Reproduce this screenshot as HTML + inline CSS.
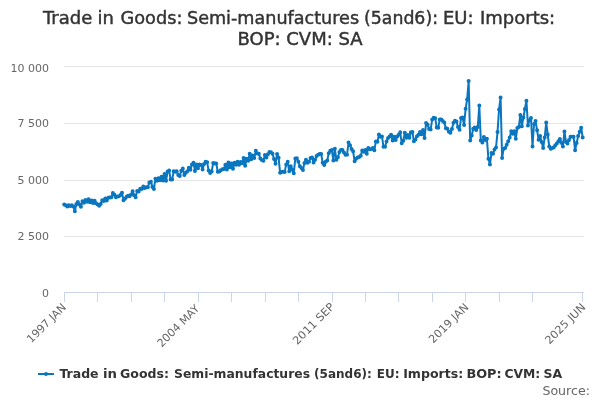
<!DOCTYPE html>
<html><head><meta charset="utf-8">
<style>
html,body{margin:0;padding:0;background:#fff;overflow:hidden;}
svg{display:block;font-family:"DejaVu Sans","Liberation Sans",sans-serif;}
</style></head><body>
<svg width="600" height="400" viewBox="0 0 600 400">
<rect x="0" y="0" width="600" height="400" fill="#ffffff"/>
<g fill="#333333" font-size="18px" text-anchor="middle" stroke="#333333" stroke-width="0.45">
<g text-anchor="start">
<text x="43" y="24">Trade</text>
<text x="97.5" y="24">in</text>
<text x="120.5" y="24" textLength="61.9" lengthAdjust="spacingAndGlyphs">Goods:</text>
<text x="187" y="24" textLength="172.1" lengthAdjust="spacingAndGlyphs">Semi-manufactures</text>
<text x="364" y="24" textLength="74" lengthAdjust="spacingAndGlyphs">(5and6):</text>
<text x="443" y="24">EU:</text>
<text x="480" y="24">Imports:</text>
</g>
<text x="300" y="45">BOP: CVM: SA</text>
</g>
<g stroke="#e6e6e6" stroke-width="1" fill="none">
<path d="M64 66.5H584M64 123.5H584M64 180.5H584M64 236.5H584"/>
</g>
<path d="M64 292.5H584M64.5 292.5V302M97.5 292.5V302M131.5 292.5V302M164.5 292.5V302M198.5 292.5V302M231.5 292.5V302M265.5 292.5V302M298.5 292.5V302M332.5 292.5V302M365.5 292.5V302M398.5 292.5V302M432.5 292.5V302M465.5 292.5V302M499.5 292.5V302M532.5 292.5V302M582.5 292.5V302" stroke="#ccd6eb" stroke-width="1" fill="none"/>
<g fill="#666666" font-size="11px" text-anchor="end">
<text x="49" y="71.5">10 000</text>
<text x="49" y="127.3">7 500</text>
<text x="49" y="183.8">5 000</text>
<text x="49" y="239.5">2 500</text>
<text x="49" y="296.5">0</text>
</g>
<g fill="#666666" font-size="11px" text-anchor="end">
<text x="66.8" y="308.0" transform="rotate(-45 66.8 308.0)">1997 JAN</text><text x="200.1" y="309.25" transform="rotate(-45 200.1 309.25)">2004 MAY</text><text x="335.1" y="307.4" transform="rotate(-45 335.1 307.4)" textLength="53.5" lengthAdjust="spacingAndGlyphs">2011 SEP</text><text x="469.3" y="307.8" transform="rotate(-45 469.3 307.8)" textLength="51.0" lengthAdjust="spacingAndGlyphs">2019 JAN</text><text x="586.3" y="307.9" transform="rotate(-45 586.3 307.9)" textLength="52.2" lengthAdjust="spacingAndGlyphs">2025 JUN</text>
</g>
<path d="M64.20 204.42 L65.72 205.24 L67.24 206.40 L68.76 205.17 L70.28 206.00 L71.80 205.22 L73.32 206.48 L74.84 211.21 L76.36 204.01 L77.88 201.95 L79.41 204.42 L80.93 206.80 L82.45 201.31 L83.97 202.85 L85.49 200.00 L87.01 201.64 L88.53 199.14 L90.05 202.17 L91.57 200.39 L93.09 202.95 L94.61 200.85 L96.13 203.34 L97.65 204.54 L99.17 205.63 L100.69 204.11 L102.21 200.24 L103.73 201.08 L105.25 198.48 L106.77 200.49 L108.29 197.78 L109.81 197.56 L111.34 197.36 L112.86 193.02 L114.38 194.81 L115.90 197.20 L117.42 196.52 L118.94 196.30 L120.46 195.09 L121.98 192.65 L123.50 200.15 L125.02 198.70 L126.54 196.78 L128.06 195.80 L129.58 196.19 L131.10 194.45 L132.62 191.37 L134.14 195.33 L135.66 197.24 L137.18 190.88 L138.70 191.54 L140.22 188.70 L141.75 189.01 L143.27 186.50 L144.79 187.97 L146.31 187.37 L147.83 187.37 L149.35 182.57 L150.87 181.63 L152.39 186.88 L153.91 189.02 L155.43 178.72 L156.95 180.87 L158.47 178.24 L159.99 180.20 L161.51 176.84 L163.03 180.53 L164.55 174.08 L166.07 180.73 L167.59 171.61 L169.11 170.54 L170.63 179.56 L172.16 179.58 L173.68 171.33 L175.20 171.65 L176.72 171.22 L178.24 175.10 L179.76 176.12 L181.28 170.72 L182.80 168.55 L184.32 175.04 L185.84 172.72 L187.36 171.24 L188.88 167.76 L190.40 169.70 L191.92 164.38 L193.44 162.86 L194.96 171.00 L196.48 164.50 L198.00 168.17 L199.52 164.43 L201.05 165.04 L202.57 169.43 L204.09 163.95 L205.61 161.69 L207.13 162.34 L208.65 170.59 L210.17 173.07 L211.69 171.41 L213.21 162.90 L214.73 163.50 L216.25 163.50 L217.77 171.70 L219.29 171.47 L220.81 170.25 L222.33 169.23 L223.85 168.93 L225.37 164.80 L226.89 169.39 L228.41 162.39 L229.93 167.17 L231.45 163.47 L232.98 168.64 L234.50 162.68 L236.02 164.87 L237.54 161.74 L239.06 164.63 L240.58 161.90 L242.10 163.22 L243.62 157.89 L245.14 165.82 L246.66 158.79 L248.18 160.81 L249.70 153.75 L251.22 159.19 L252.74 155.53 L254.26 158.03 L255.78 150.83 L257.30 153.57 L258.82 153.86 L260.34 158.39 L261.87 160.10 L263.39 160.68 L264.91 154.95 L266.43 157.52 L267.95 154.15 L269.47 152.05 L270.99 152.29 L272.51 153.81 L274.03 159.06 L275.55 163.86 L277.07 153.97 L278.59 157.72 L280.11 172.83 L281.63 172.10 L283.15 171.76 L284.67 172.10 L286.19 164.41 L287.71 161.80 L289.23 171.25 L290.75 166.28 L292.27 169.64 L293.80 173.19 L295.32 158.44 L296.84 158.30 L298.36 161.77 L299.88 166.24 L301.40 168.00 L302.92 170.12 L304.44 163.07 L305.96 159.68 L307.48 162.65 L309.00 161.70 L310.52 158.04 L312.04 157.41 L313.56 162.45 L315.08 159.83 L316.60 155.90 L318.12 154.84 L319.64 154.08 L321.16 153.90 L322.69 162.78 L324.21 165.08 L325.73 161.68 L327.25 160.43 L328.77 153.13 L330.29 150.72 L331.81 149.90 L333.33 160.45 L334.85 148.81 L336.37 159.67 L337.89 157.32 L339.41 151.92 L340.93 150.11 L342.45 150.08 L343.97 152.49 L345.49 154.74 L347.01 154.77 L348.53 142.53 L350.05 145.23 L351.57 149.04 L353.09 151.34 L354.62 161.13 L356.14 158.76 L357.66 157.60 L359.18 156.99 L360.70 155.85 L362.22 150.59 L363.74 151.70 L365.26 149.91 L366.78 153.67 L368.30 147.96 L369.82 149.30 L371.34 148.93 L372.86 147.91 L374.38 150.17 L375.90 141.42 L377.42 141.66 L378.94 134.51 L380.46 136.86 L381.98 136.41 L383.50 146.81 L385.03 146.81 L386.55 141.49 L388.07 137.93 L389.59 136.51 L391.11 134.67 L392.63 140.56 L394.15 136.87 L395.67 139.97 L397.19 136.51 L398.71 134.68 L400.23 132.37 L401.75 143.32 L403.27 140.84 L404.79 132.75 L406.31 137.64 L407.83 135.12 L409.35 137.68 L410.87 132.36 L412.39 132.09 L413.91 141.36 L415.44 139.41 L416.96 136.19 L418.48 134.76 L420.00 131.90 L421.52 134.22 L423.04 129.97 L424.56 138.04 L426.08 123.10 L427.60 124.85 L429.12 128.90 L430.64 129.52 L432.16 119.54 L433.68 117.80 L435.20 118.20 L436.72 127.54 L438.24 127.71 L439.76 119.41 L441.28 119.38 L442.80 120.90 L444.32 122.40 L445.85 128.35 L447.37 128.87 L448.89 131.76 L450.41 132.68 L451.93 128.91 L453.45 122.87 L454.97 120.74 L456.49 121.44 L458.01 127.11 L459.53 129.63 L461.05 118.12 L462.57 117.51 L464.09 124.90 L465.61 108.80 L467.13 99.40 L468.65 81.00 L470.17 140.60 L471.69 135.60 L473.21 128.80 L474.73 127.50 L476.26 130.00 L477.78 126.90 L479.30 105.60 L480.82 140.60 L482.34 142.50 L483.86 136.90 L485.38 140.00 L486.90 138.80 L488.42 158.80 L489.94 164.50 L491.46 153.10 L492.98 153.80 L494.50 149.40 L496.02 147.50 L497.54 131.90 L499.06 109.40 L500.58 97.50 L502.10 158.10 L503.62 148.80 L505.14 148.10 L506.67 144.70 L508.19 141.30 L509.71 137.50 L511.23 131.30 L512.75 133.80 L514.27 131.30 L515.79 138.80 L517.31 128.10 L518.83 126.90 L520.35 115.00 L521.87 126.20 L523.39 117.60 L524.91 109.00 L526.43 100.70 L527.95 125.50 L529.47 120.20 L530.99 118.00 L532.51 146.50 L534.03 124.00 L535.55 121.00 L537.08 130.35 L538.60 139.70 L540.12 136.00 L541.64 142.00 L543.16 148.00 L544.68 137.50 L546.20 122.50 L547.72 134.50 L549.24 146.50 L550.76 148.70 L552.28 147.95 L553.80 147.20 L555.32 145.35 L556.84 143.50 L558.36 141.25 L559.88 139.00 L561.40 142.75 L562.92 146.50 L564.44 131.50 L565.97 142.00 L567.49 143.50 L569.01 140.10 L570.53 136.70 L572.05 136.70 L573.57 136.70 L575.09 150.20 L576.61 143.10 L578.13 136.00 L579.65 131.85 L581.17 127.70 L582.69 137.50" stroke="#0a76bf" stroke-width="2" fill="none" stroke-linejoin="round" stroke-linecap="round"/>
<path d="M62.20 204.42a2.0 2.0 0 1 0 4.0 0a2.0 2.0 0 1 0 -4.0 0M63.72 205.24a2.0 2.0 0 1 0 4.0 0a2.0 2.0 0 1 0 -4.0 0M65.24 206.40a2.0 2.0 0 1 0 4.0 0a2.0 2.0 0 1 0 -4.0 0M66.76 205.17a2.0 2.0 0 1 0 4.0 0a2.0 2.0 0 1 0 -4.0 0M68.28 206.00a2.0 2.0 0 1 0 4.0 0a2.0 2.0 0 1 0 -4.0 0M69.80 205.22a2.0 2.0 0 1 0 4.0 0a2.0 2.0 0 1 0 -4.0 0M71.32 206.48a2.0 2.0 0 1 0 4.0 0a2.0 2.0 0 1 0 -4.0 0M72.84 211.21a2.0 2.0 0 1 0 4.0 0a2.0 2.0 0 1 0 -4.0 0M74.36 204.01a2.0 2.0 0 1 0 4.0 0a2.0 2.0 0 1 0 -4.0 0M75.88 201.95a2.0 2.0 0 1 0 4.0 0a2.0 2.0 0 1 0 -4.0 0M77.41 204.42a2.0 2.0 0 1 0 4.0 0a2.0 2.0 0 1 0 -4.0 0M78.93 206.80a2.0 2.0 0 1 0 4.0 0a2.0 2.0 0 1 0 -4.0 0M80.45 201.31a2.0 2.0 0 1 0 4.0 0a2.0 2.0 0 1 0 -4.0 0M81.97 202.85a2.0 2.0 0 1 0 4.0 0a2.0 2.0 0 1 0 -4.0 0M83.49 200.00a2.0 2.0 0 1 0 4.0 0a2.0 2.0 0 1 0 -4.0 0M85.01 201.64a2.0 2.0 0 1 0 4.0 0a2.0 2.0 0 1 0 -4.0 0M86.53 199.14a2.0 2.0 0 1 0 4.0 0a2.0 2.0 0 1 0 -4.0 0M88.05 202.17a2.0 2.0 0 1 0 4.0 0a2.0 2.0 0 1 0 -4.0 0M89.57 200.39a2.0 2.0 0 1 0 4.0 0a2.0 2.0 0 1 0 -4.0 0M91.09 202.95a2.0 2.0 0 1 0 4.0 0a2.0 2.0 0 1 0 -4.0 0M92.61 200.85a2.0 2.0 0 1 0 4.0 0a2.0 2.0 0 1 0 -4.0 0M94.13 203.34a2.0 2.0 0 1 0 4.0 0a2.0 2.0 0 1 0 -4.0 0M95.65 204.54a2.0 2.0 0 1 0 4.0 0a2.0 2.0 0 1 0 -4.0 0M97.17 205.63a2.0 2.0 0 1 0 4.0 0a2.0 2.0 0 1 0 -4.0 0M98.69 204.11a2.0 2.0 0 1 0 4.0 0a2.0 2.0 0 1 0 -4.0 0M100.21 200.24a2.0 2.0 0 1 0 4.0 0a2.0 2.0 0 1 0 -4.0 0M101.73 201.08a2.0 2.0 0 1 0 4.0 0a2.0 2.0 0 1 0 -4.0 0M103.25 198.48a2.0 2.0 0 1 0 4.0 0a2.0 2.0 0 1 0 -4.0 0M104.77 200.49a2.0 2.0 0 1 0 4.0 0a2.0 2.0 0 1 0 -4.0 0M106.29 197.78a2.0 2.0 0 1 0 4.0 0a2.0 2.0 0 1 0 -4.0 0M107.81 197.56a2.0 2.0 0 1 0 4.0 0a2.0 2.0 0 1 0 -4.0 0M109.34 197.36a2.0 2.0 0 1 0 4.0 0a2.0 2.0 0 1 0 -4.0 0M110.86 193.02a2.0 2.0 0 1 0 4.0 0a2.0 2.0 0 1 0 -4.0 0M112.38 194.81a2.0 2.0 0 1 0 4.0 0a2.0 2.0 0 1 0 -4.0 0M113.90 197.20a2.0 2.0 0 1 0 4.0 0a2.0 2.0 0 1 0 -4.0 0M115.42 196.52a2.0 2.0 0 1 0 4.0 0a2.0 2.0 0 1 0 -4.0 0M116.94 196.30a2.0 2.0 0 1 0 4.0 0a2.0 2.0 0 1 0 -4.0 0M118.46 195.09a2.0 2.0 0 1 0 4.0 0a2.0 2.0 0 1 0 -4.0 0M119.98 192.65a2.0 2.0 0 1 0 4.0 0a2.0 2.0 0 1 0 -4.0 0M121.50 200.15a2.0 2.0 0 1 0 4.0 0a2.0 2.0 0 1 0 -4.0 0M123.02 198.70a2.0 2.0 0 1 0 4.0 0a2.0 2.0 0 1 0 -4.0 0M124.54 196.78a2.0 2.0 0 1 0 4.0 0a2.0 2.0 0 1 0 -4.0 0M126.06 195.80a2.0 2.0 0 1 0 4.0 0a2.0 2.0 0 1 0 -4.0 0M127.58 196.19a2.0 2.0 0 1 0 4.0 0a2.0 2.0 0 1 0 -4.0 0M129.10 194.45a2.0 2.0 0 1 0 4.0 0a2.0 2.0 0 1 0 -4.0 0M130.62 191.37a2.0 2.0 0 1 0 4.0 0a2.0 2.0 0 1 0 -4.0 0M132.14 195.33a2.0 2.0 0 1 0 4.0 0a2.0 2.0 0 1 0 -4.0 0M133.66 197.24a2.0 2.0 0 1 0 4.0 0a2.0 2.0 0 1 0 -4.0 0M135.18 190.88a2.0 2.0 0 1 0 4.0 0a2.0 2.0 0 1 0 -4.0 0M136.70 191.54a2.0 2.0 0 1 0 4.0 0a2.0 2.0 0 1 0 -4.0 0M138.22 188.70a2.0 2.0 0 1 0 4.0 0a2.0 2.0 0 1 0 -4.0 0M139.75 189.01a2.0 2.0 0 1 0 4.0 0a2.0 2.0 0 1 0 -4.0 0M141.27 186.50a2.0 2.0 0 1 0 4.0 0a2.0 2.0 0 1 0 -4.0 0M142.79 187.97a2.0 2.0 0 1 0 4.0 0a2.0 2.0 0 1 0 -4.0 0M144.31 187.37a2.0 2.0 0 1 0 4.0 0a2.0 2.0 0 1 0 -4.0 0M145.83 187.37a2.0 2.0 0 1 0 4.0 0a2.0 2.0 0 1 0 -4.0 0M147.35 182.57a2.0 2.0 0 1 0 4.0 0a2.0 2.0 0 1 0 -4.0 0M148.87 181.63a2.0 2.0 0 1 0 4.0 0a2.0 2.0 0 1 0 -4.0 0M150.39 186.88a2.0 2.0 0 1 0 4.0 0a2.0 2.0 0 1 0 -4.0 0M151.91 189.02a2.0 2.0 0 1 0 4.0 0a2.0 2.0 0 1 0 -4.0 0M153.43 178.72a2.0 2.0 0 1 0 4.0 0a2.0 2.0 0 1 0 -4.0 0M154.95 180.87a2.0 2.0 0 1 0 4.0 0a2.0 2.0 0 1 0 -4.0 0M156.47 178.24a2.0 2.0 0 1 0 4.0 0a2.0 2.0 0 1 0 -4.0 0M157.99 180.20a2.0 2.0 0 1 0 4.0 0a2.0 2.0 0 1 0 -4.0 0M159.51 176.84a2.0 2.0 0 1 0 4.0 0a2.0 2.0 0 1 0 -4.0 0M161.03 180.53a2.0 2.0 0 1 0 4.0 0a2.0 2.0 0 1 0 -4.0 0M162.55 174.08a2.0 2.0 0 1 0 4.0 0a2.0 2.0 0 1 0 -4.0 0M164.07 180.73a2.0 2.0 0 1 0 4.0 0a2.0 2.0 0 1 0 -4.0 0M165.59 171.61a2.0 2.0 0 1 0 4.0 0a2.0 2.0 0 1 0 -4.0 0M167.11 170.54a2.0 2.0 0 1 0 4.0 0a2.0 2.0 0 1 0 -4.0 0M168.63 179.56a2.0 2.0 0 1 0 4.0 0a2.0 2.0 0 1 0 -4.0 0M170.16 179.58a2.0 2.0 0 1 0 4.0 0a2.0 2.0 0 1 0 -4.0 0M171.68 171.33a2.0 2.0 0 1 0 4.0 0a2.0 2.0 0 1 0 -4.0 0M173.20 171.65a2.0 2.0 0 1 0 4.0 0a2.0 2.0 0 1 0 -4.0 0M174.72 171.22a2.0 2.0 0 1 0 4.0 0a2.0 2.0 0 1 0 -4.0 0M176.24 175.10a2.0 2.0 0 1 0 4.0 0a2.0 2.0 0 1 0 -4.0 0M177.76 176.12a2.0 2.0 0 1 0 4.0 0a2.0 2.0 0 1 0 -4.0 0M179.28 170.72a2.0 2.0 0 1 0 4.0 0a2.0 2.0 0 1 0 -4.0 0M180.80 168.55a2.0 2.0 0 1 0 4.0 0a2.0 2.0 0 1 0 -4.0 0M182.32 175.04a2.0 2.0 0 1 0 4.0 0a2.0 2.0 0 1 0 -4.0 0M183.84 172.72a2.0 2.0 0 1 0 4.0 0a2.0 2.0 0 1 0 -4.0 0M185.36 171.24a2.0 2.0 0 1 0 4.0 0a2.0 2.0 0 1 0 -4.0 0M186.88 167.76a2.0 2.0 0 1 0 4.0 0a2.0 2.0 0 1 0 -4.0 0M188.40 169.70a2.0 2.0 0 1 0 4.0 0a2.0 2.0 0 1 0 -4.0 0M189.92 164.38a2.0 2.0 0 1 0 4.0 0a2.0 2.0 0 1 0 -4.0 0M191.44 162.86a2.0 2.0 0 1 0 4.0 0a2.0 2.0 0 1 0 -4.0 0M192.96 171.00a2.0 2.0 0 1 0 4.0 0a2.0 2.0 0 1 0 -4.0 0M194.48 164.50a2.0 2.0 0 1 0 4.0 0a2.0 2.0 0 1 0 -4.0 0M196.00 168.17a2.0 2.0 0 1 0 4.0 0a2.0 2.0 0 1 0 -4.0 0M197.52 164.43a2.0 2.0 0 1 0 4.0 0a2.0 2.0 0 1 0 -4.0 0M199.05 165.04a2.0 2.0 0 1 0 4.0 0a2.0 2.0 0 1 0 -4.0 0M200.57 169.43a2.0 2.0 0 1 0 4.0 0a2.0 2.0 0 1 0 -4.0 0M202.09 163.95a2.0 2.0 0 1 0 4.0 0a2.0 2.0 0 1 0 -4.0 0M203.61 161.69a2.0 2.0 0 1 0 4.0 0a2.0 2.0 0 1 0 -4.0 0M205.13 162.34a2.0 2.0 0 1 0 4.0 0a2.0 2.0 0 1 0 -4.0 0M206.65 170.59a2.0 2.0 0 1 0 4.0 0a2.0 2.0 0 1 0 -4.0 0M208.17 173.07a2.0 2.0 0 1 0 4.0 0a2.0 2.0 0 1 0 -4.0 0M209.69 171.41a2.0 2.0 0 1 0 4.0 0a2.0 2.0 0 1 0 -4.0 0M211.21 162.90a2.0 2.0 0 1 0 4.0 0a2.0 2.0 0 1 0 -4.0 0M212.73 163.50a2.0 2.0 0 1 0 4.0 0a2.0 2.0 0 1 0 -4.0 0M214.25 163.50a2.0 2.0 0 1 0 4.0 0a2.0 2.0 0 1 0 -4.0 0M215.77 171.70a2.0 2.0 0 1 0 4.0 0a2.0 2.0 0 1 0 -4.0 0M217.29 171.47a2.0 2.0 0 1 0 4.0 0a2.0 2.0 0 1 0 -4.0 0M218.81 170.25a2.0 2.0 0 1 0 4.0 0a2.0 2.0 0 1 0 -4.0 0M220.33 169.23a2.0 2.0 0 1 0 4.0 0a2.0 2.0 0 1 0 -4.0 0M221.85 168.93a2.0 2.0 0 1 0 4.0 0a2.0 2.0 0 1 0 -4.0 0M223.37 164.80a2.0 2.0 0 1 0 4.0 0a2.0 2.0 0 1 0 -4.0 0M224.89 169.39a2.0 2.0 0 1 0 4.0 0a2.0 2.0 0 1 0 -4.0 0M226.41 162.39a2.0 2.0 0 1 0 4.0 0a2.0 2.0 0 1 0 -4.0 0M227.93 167.17a2.0 2.0 0 1 0 4.0 0a2.0 2.0 0 1 0 -4.0 0M229.45 163.47a2.0 2.0 0 1 0 4.0 0a2.0 2.0 0 1 0 -4.0 0M230.98 168.64a2.0 2.0 0 1 0 4.0 0a2.0 2.0 0 1 0 -4.0 0M232.50 162.68a2.0 2.0 0 1 0 4.0 0a2.0 2.0 0 1 0 -4.0 0M234.02 164.87a2.0 2.0 0 1 0 4.0 0a2.0 2.0 0 1 0 -4.0 0M235.54 161.74a2.0 2.0 0 1 0 4.0 0a2.0 2.0 0 1 0 -4.0 0M237.06 164.63a2.0 2.0 0 1 0 4.0 0a2.0 2.0 0 1 0 -4.0 0M238.58 161.90a2.0 2.0 0 1 0 4.0 0a2.0 2.0 0 1 0 -4.0 0M240.10 163.22a2.0 2.0 0 1 0 4.0 0a2.0 2.0 0 1 0 -4.0 0M241.62 157.89a2.0 2.0 0 1 0 4.0 0a2.0 2.0 0 1 0 -4.0 0M243.14 165.82a2.0 2.0 0 1 0 4.0 0a2.0 2.0 0 1 0 -4.0 0M244.66 158.79a2.0 2.0 0 1 0 4.0 0a2.0 2.0 0 1 0 -4.0 0M246.18 160.81a2.0 2.0 0 1 0 4.0 0a2.0 2.0 0 1 0 -4.0 0M247.70 153.75a2.0 2.0 0 1 0 4.0 0a2.0 2.0 0 1 0 -4.0 0M249.22 159.19a2.0 2.0 0 1 0 4.0 0a2.0 2.0 0 1 0 -4.0 0M250.74 155.53a2.0 2.0 0 1 0 4.0 0a2.0 2.0 0 1 0 -4.0 0M252.26 158.03a2.0 2.0 0 1 0 4.0 0a2.0 2.0 0 1 0 -4.0 0M253.78 150.83a2.0 2.0 0 1 0 4.0 0a2.0 2.0 0 1 0 -4.0 0M255.30 153.57a2.0 2.0 0 1 0 4.0 0a2.0 2.0 0 1 0 -4.0 0M256.82 153.86a2.0 2.0 0 1 0 4.0 0a2.0 2.0 0 1 0 -4.0 0M258.34 158.39a2.0 2.0 0 1 0 4.0 0a2.0 2.0 0 1 0 -4.0 0M259.87 160.10a2.0 2.0 0 1 0 4.0 0a2.0 2.0 0 1 0 -4.0 0M261.39 160.68a2.0 2.0 0 1 0 4.0 0a2.0 2.0 0 1 0 -4.0 0M262.91 154.95a2.0 2.0 0 1 0 4.0 0a2.0 2.0 0 1 0 -4.0 0M264.43 157.52a2.0 2.0 0 1 0 4.0 0a2.0 2.0 0 1 0 -4.0 0M265.95 154.15a2.0 2.0 0 1 0 4.0 0a2.0 2.0 0 1 0 -4.0 0M267.47 152.05a2.0 2.0 0 1 0 4.0 0a2.0 2.0 0 1 0 -4.0 0M268.99 152.29a2.0 2.0 0 1 0 4.0 0a2.0 2.0 0 1 0 -4.0 0M270.51 153.81a2.0 2.0 0 1 0 4.0 0a2.0 2.0 0 1 0 -4.0 0M272.03 159.06a2.0 2.0 0 1 0 4.0 0a2.0 2.0 0 1 0 -4.0 0M273.55 163.86a2.0 2.0 0 1 0 4.0 0a2.0 2.0 0 1 0 -4.0 0M275.07 153.97a2.0 2.0 0 1 0 4.0 0a2.0 2.0 0 1 0 -4.0 0M276.59 157.72a2.0 2.0 0 1 0 4.0 0a2.0 2.0 0 1 0 -4.0 0M278.11 172.83a2.0 2.0 0 1 0 4.0 0a2.0 2.0 0 1 0 -4.0 0M279.63 172.10a2.0 2.0 0 1 0 4.0 0a2.0 2.0 0 1 0 -4.0 0M281.15 171.76a2.0 2.0 0 1 0 4.0 0a2.0 2.0 0 1 0 -4.0 0M282.67 172.10a2.0 2.0 0 1 0 4.0 0a2.0 2.0 0 1 0 -4.0 0M284.19 164.41a2.0 2.0 0 1 0 4.0 0a2.0 2.0 0 1 0 -4.0 0M285.71 161.80a2.0 2.0 0 1 0 4.0 0a2.0 2.0 0 1 0 -4.0 0M287.23 171.25a2.0 2.0 0 1 0 4.0 0a2.0 2.0 0 1 0 -4.0 0M288.75 166.28a2.0 2.0 0 1 0 4.0 0a2.0 2.0 0 1 0 -4.0 0M290.27 169.64a2.0 2.0 0 1 0 4.0 0a2.0 2.0 0 1 0 -4.0 0M291.80 173.19a2.0 2.0 0 1 0 4.0 0a2.0 2.0 0 1 0 -4.0 0M293.32 158.44a2.0 2.0 0 1 0 4.0 0a2.0 2.0 0 1 0 -4.0 0M294.84 158.30a2.0 2.0 0 1 0 4.0 0a2.0 2.0 0 1 0 -4.0 0M296.36 161.77a2.0 2.0 0 1 0 4.0 0a2.0 2.0 0 1 0 -4.0 0M297.88 166.24a2.0 2.0 0 1 0 4.0 0a2.0 2.0 0 1 0 -4.0 0M299.40 168.00a2.0 2.0 0 1 0 4.0 0a2.0 2.0 0 1 0 -4.0 0M300.92 170.12a2.0 2.0 0 1 0 4.0 0a2.0 2.0 0 1 0 -4.0 0M302.44 163.07a2.0 2.0 0 1 0 4.0 0a2.0 2.0 0 1 0 -4.0 0M303.96 159.68a2.0 2.0 0 1 0 4.0 0a2.0 2.0 0 1 0 -4.0 0M305.48 162.65a2.0 2.0 0 1 0 4.0 0a2.0 2.0 0 1 0 -4.0 0M307.00 161.70a2.0 2.0 0 1 0 4.0 0a2.0 2.0 0 1 0 -4.0 0M308.52 158.04a2.0 2.0 0 1 0 4.0 0a2.0 2.0 0 1 0 -4.0 0M310.04 157.41a2.0 2.0 0 1 0 4.0 0a2.0 2.0 0 1 0 -4.0 0M311.56 162.45a2.0 2.0 0 1 0 4.0 0a2.0 2.0 0 1 0 -4.0 0M313.08 159.83a2.0 2.0 0 1 0 4.0 0a2.0 2.0 0 1 0 -4.0 0M314.60 155.90a2.0 2.0 0 1 0 4.0 0a2.0 2.0 0 1 0 -4.0 0M316.12 154.84a2.0 2.0 0 1 0 4.0 0a2.0 2.0 0 1 0 -4.0 0M317.64 154.08a2.0 2.0 0 1 0 4.0 0a2.0 2.0 0 1 0 -4.0 0M319.16 153.90a2.0 2.0 0 1 0 4.0 0a2.0 2.0 0 1 0 -4.0 0M320.69 162.78a2.0 2.0 0 1 0 4.0 0a2.0 2.0 0 1 0 -4.0 0M322.21 165.08a2.0 2.0 0 1 0 4.0 0a2.0 2.0 0 1 0 -4.0 0M323.73 161.68a2.0 2.0 0 1 0 4.0 0a2.0 2.0 0 1 0 -4.0 0M325.25 160.43a2.0 2.0 0 1 0 4.0 0a2.0 2.0 0 1 0 -4.0 0M326.77 153.13a2.0 2.0 0 1 0 4.0 0a2.0 2.0 0 1 0 -4.0 0M328.29 150.72a2.0 2.0 0 1 0 4.0 0a2.0 2.0 0 1 0 -4.0 0M329.81 149.90a2.0 2.0 0 1 0 4.0 0a2.0 2.0 0 1 0 -4.0 0M331.33 160.45a2.0 2.0 0 1 0 4.0 0a2.0 2.0 0 1 0 -4.0 0M332.85 148.81a2.0 2.0 0 1 0 4.0 0a2.0 2.0 0 1 0 -4.0 0M334.37 159.67a2.0 2.0 0 1 0 4.0 0a2.0 2.0 0 1 0 -4.0 0M335.89 157.32a2.0 2.0 0 1 0 4.0 0a2.0 2.0 0 1 0 -4.0 0M337.41 151.92a2.0 2.0 0 1 0 4.0 0a2.0 2.0 0 1 0 -4.0 0M338.93 150.11a2.0 2.0 0 1 0 4.0 0a2.0 2.0 0 1 0 -4.0 0M340.45 150.08a2.0 2.0 0 1 0 4.0 0a2.0 2.0 0 1 0 -4.0 0M341.97 152.49a2.0 2.0 0 1 0 4.0 0a2.0 2.0 0 1 0 -4.0 0M343.49 154.74a2.0 2.0 0 1 0 4.0 0a2.0 2.0 0 1 0 -4.0 0M345.01 154.77a2.0 2.0 0 1 0 4.0 0a2.0 2.0 0 1 0 -4.0 0M346.53 142.53a2.0 2.0 0 1 0 4.0 0a2.0 2.0 0 1 0 -4.0 0M348.05 145.23a2.0 2.0 0 1 0 4.0 0a2.0 2.0 0 1 0 -4.0 0M349.57 149.04a2.0 2.0 0 1 0 4.0 0a2.0 2.0 0 1 0 -4.0 0M351.09 151.34a2.0 2.0 0 1 0 4.0 0a2.0 2.0 0 1 0 -4.0 0M352.62 161.13a2.0 2.0 0 1 0 4.0 0a2.0 2.0 0 1 0 -4.0 0M354.14 158.76a2.0 2.0 0 1 0 4.0 0a2.0 2.0 0 1 0 -4.0 0M355.66 157.60a2.0 2.0 0 1 0 4.0 0a2.0 2.0 0 1 0 -4.0 0M357.18 156.99a2.0 2.0 0 1 0 4.0 0a2.0 2.0 0 1 0 -4.0 0M358.70 155.85a2.0 2.0 0 1 0 4.0 0a2.0 2.0 0 1 0 -4.0 0M360.22 150.59a2.0 2.0 0 1 0 4.0 0a2.0 2.0 0 1 0 -4.0 0M361.74 151.70a2.0 2.0 0 1 0 4.0 0a2.0 2.0 0 1 0 -4.0 0M363.26 149.91a2.0 2.0 0 1 0 4.0 0a2.0 2.0 0 1 0 -4.0 0M364.78 153.67a2.0 2.0 0 1 0 4.0 0a2.0 2.0 0 1 0 -4.0 0M366.30 147.96a2.0 2.0 0 1 0 4.0 0a2.0 2.0 0 1 0 -4.0 0M367.82 149.30a2.0 2.0 0 1 0 4.0 0a2.0 2.0 0 1 0 -4.0 0M369.34 148.93a2.0 2.0 0 1 0 4.0 0a2.0 2.0 0 1 0 -4.0 0M370.86 147.91a2.0 2.0 0 1 0 4.0 0a2.0 2.0 0 1 0 -4.0 0M372.38 150.17a2.0 2.0 0 1 0 4.0 0a2.0 2.0 0 1 0 -4.0 0M373.90 141.42a2.0 2.0 0 1 0 4.0 0a2.0 2.0 0 1 0 -4.0 0M375.42 141.66a2.0 2.0 0 1 0 4.0 0a2.0 2.0 0 1 0 -4.0 0M376.94 134.51a2.0 2.0 0 1 0 4.0 0a2.0 2.0 0 1 0 -4.0 0M378.46 136.86a2.0 2.0 0 1 0 4.0 0a2.0 2.0 0 1 0 -4.0 0M379.98 136.41a2.0 2.0 0 1 0 4.0 0a2.0 2.0 0 1 0 -4.0 0M381.50 146.81a2.0 2.0 0 1 0 4.0 0a2.0 2.0 0 1 0 -4.0 0M383.03 146.81a2.0 2.0 0 1 0 4.0 0a2.0 2.0 0 1 0 -4.0 0M384.55 141.49a2.0 2.0 0 1 0 4.0 0a2.0 2.0 0 1 0 -4.0 0M386.07 137.93a2.0 2.0 0 1 0 4.0 0a2.0 2.0 0 1 0 -4.0 0M387.59 136.51a2.0 2.0 0 1 0 4.0 0a2.0 2.0 0 1 0 -4.0 0M389.11 134.67a2.0 2.0 0 1 0 4.0 0a2.0 2.0 0 1 0 -4.0 0M390.63 140.56a2.0 2.0 0 1 0 4.0 0a2.0 2.0 0 1 0 -4.0 0M392.15 136.87a2.0 2.0 0 1 0 4.0 0a2.0 2.0 0 1 0 -4.0 0M393.67 139.97a2.0 2.0 0 1 0 4.0 0a2.0 2.0 0 1 0 -4.0 0M395.19 136.51a2.0 2.0 0 1 0 4.0 0a2.0 2.0 0 1 0 -4.0 0M396.71 134.68a2.0 2.0 0 1 0 4.0 0a2.0 2.0 0 1 0 -4.0 0M398.23 132.37a2.0 2.0 0 1 0 4.0 0a2.0 2.0 0 1 0 -4.0 0M399.75 143.32a2.0 2.0 0 1 0 4.0 0a2.0 2.0 0 1 0 -4.0 0M401.27 140.84a2.0 2.0 0 1 0 4.0 0a2.0 2.0 0 1 0 -4.0 0M402.79 132.75a2.0 2.0 0 1 0 4.0 0a2.0 2.0 0 1 0 -4.0 0M404.31 137.64a2.0 2.0 0 1 0 4.0 0a2.0 2.0 0 1 0 -4.0 0M405.83 135.12a2.0 2.0 0 1 0 4.0 0a2.0 2.0 0 1 0 -4.0 0M407.35 137.68a2.0 2.0 0 1 0 4.0 0a2.0 2.0 0 1 0 -4.0 0M408.87 132.36a2.0 2.0 0 1 0 4.0 0a2.0 2.0 0 1 0 -4.0 0M410.39 132.09a2.0 2.0 0 1 0 4.0 0a2.0 2.0 0 1 0 -4.0 0M411.91 141.36a2.0 2.0 0 1 0 4.0 0a2.0 2.0 0 1 0 -4.0 0M413.44 139.41a2.0 2.0 0 1 0 4.0 0a2.0 2.0 0 1 0 -4.0 0M414.96 136.19a2.0 2.0 0 1 0 4.0 0a2.0 2.0 0 1 0 -4.0 0M416.48 134.76a2.0 2.0 0 1 0 4.0 0a2.0 2.0 0 1 0 -4.0 0M418.00 131.90a2.0 2.0 0 1 0 4.0 0a2.0 2.0 0 1 0 -4.0 0M419.52 134.22a2.0 2.0 0 1 0 4.0 0a2.0 2.0 0 1 0 -4.0 0M421.04 129.97a2.0 2.0 0 1 0 4.0 0a2.0 2.0 0 1 0 -4.0 0M422.56 138.04a2.0 2.0 0 1 0 4.0 0a2.0 2.0 0 1 0 -4.0 0M424.08 123.10a2.0 2.0 0 1 0 4.0 0a2.0 2.0 0 1 0 -4.0 0M425.60 124.85a2.0 2.0 0 1 0 4.0 0a2.0 2.0 0 1 0 -4.0 0M427.12 128.90a2.0 2.0 0 1 0 4.0 0a2.0 2.0 0 1 0 -4.0 0M428.64 129.52a2.0 2.0 0 1 0 4.0 0a2.0 2.0 0 1 0 -4.0 0M430.16 119.54a2.0 2.0 0 1 0 4.0 0a2.0 2.0 0 1 0 -4.0 0M431.68 117.80a2.0 2.0 0 1 0 4.0 0a2.0 2.0 0 1 0 -4.0 0M433.20 118.20a2.0 2.0 0 1 0 4.0 0a2.0 2.0 0 1 0 -4.0 0M434.72 127.54a2.0 2.0 0 1 0 4.0 0a2.0 2.0 0 1 0 -4.0 0M436.24 127.71a2.0 2.0 0 1 0 4.0 0a2.0 2.0 0 1 0 -4.0 0M437.76 119.41a2.0 2.0 0 1 0 4.0 0a2.0 2.0 0 1 0 -4.0 0M439.28 119.38a2.0 2.0 0 1 0 4.0 0a2.0 2.0 0 1 0 -4.0 0M440.80 120.90a2.0 2.0 0 1 0 4.0 0a2.0 2.0 0 1 0 -4.0 0M442.32 122.40a2.0 2.0 0 1 0 4.0 0a2.0 2.0 0 1 0 -4.0 0M443.85 128.35a2.0 2.0 0 1 0 4.0 0a2.0 2.0 0 1 0 -4.0 0M445.37 128.87a2.0 2.0 0 1 0 4.0 0a2.0 2.0 0 1 0 -4.0 0M446.89 131.76a2.0 2.0 0 1 0 4.0 0a2.0 2.0 0 1 0 -4.0 0M448.41 132.68a2.0 2.0 0 1 0 4.0 0a2.0 2.0 0 1 0 -4.0 0M449.93 128.91a2.0 2.0 0 1 0 4.0 0a2.0 2.0 0 1 0 -4.0 0M451.45 122.87a2.0 2.0 0 1 0 4.0 0a2.0 2.0 0 1 0 -4.0 0M452.97 120.74a2.0 2.0 0 1 0 4.0 0a2.0 2.0 0 1 0 -4.0 0M454.49 121.44a2.0 2.0 0 1 0 4.0 0a2.0 2.0 0 1 0 -4.0 0M456.01 127.11a2.0 2.0 0 1 0 4.0 0a2.0 2.0 0 1 0 -4.0 0M457.53 129.63a2.0 2.0 0 1 0 4.0 0a2.0 2.0 0 1 0 -4.0 0M459.05 118.12a2.0 2.0 0 1 0 4.0 0a2.0 2.0 0 1 0 -4.0 0M460.57 117.51a2.0 2.0 0 1 0 4.0 0a2.0 2.0 0 1 0 -4.0 0M462.09 124.90a2.0 2.0 0 1 0 4.0 0a2.0 2.0 0 1 0 -4.0 0M463.61 108.80a2.0 2.0 0 1 0 4.0 0a2.0 2.0 0 1 0 -4.0 0M465.13 99.40a2.0 2.0 0 1 0 4.0 0a2.0 2.0 0 1 0 -4.0 0M466.65 81.00a2.0 2.0 0 1 0 4.0 0a2.0 2.0 0 1 0 -4.0 0M468.17 140.60a2.0 2.0 0 1 0 4.0 0a2.0 2.0 0 1 0 -4.0 0M469.69 135.60a2.0 2.0 0 1 0 4.0 0a2.0 2.0 0 1 0 -4.0 0M471.21 128.80a2.0 2.0 0 1 0 4.0 0a2.0 2.0 0 1 0 -4.0 0M472.73 127.50a2.0 2.0 0 1 0 4.0 0a2.0 2.0 0 1 0 -4.0 0M474.26 130.00a2.0 2.0 0 1 0 4.0 0a2.0 2.0 0 1 0 -4.0 0M475.78 126.90a2.0 2.0 0 1 0 4.0 0a2.0 2.0 0 1 0 -4.0 0M477.30 105.60a2.0 2.0 0 1 0 4.0 0a2.0 2.0 0 1 0 -4.0 0M478.82 140.60a2.0 2.0 0 1 0 4.0 0a2.0 2.0 0 1 0 -4.0 0M480.34 142.50a2.0 2.0 0 1 0 4.0 0a2.0 2.0 0 1 0 -4.0 0M481.86 136.90a2.0 2.0 0 1 0 4.0 0a2.0 2.0 0 1 0 -4.0 0M483.38 140.00a2.0 2.0 0 1 0 4.0 0a2.0 2.0 0 1 0 -4.0 0M484.90 138.80a2.0 2.0 0 1 0 4.0 0a2.0 2.0 0 1 0 -4.0 0M486.42 158.80a2.0 2.0 0 1 0 4.0 0a2.0 2.0 0 1 0 -4.0 0M487.94 164.50a2.0 2.0 0 1 0 4.0 0a2.0 2.0 0 1 0 -4.0 0M489.46 153.10a2.0 2.0 0 1 0 4.0 0a2.0 2.0 0 1 0 -4.0 0M490.98 153.80a2.0 2.0 0 1 0 4.0 0a2.0 2.0 0 1 0 -4.0 0M492.50 149.40a2.0 2.0 0 1 0 4.0 0a2.0 2.0 0 1 0 -4.0 0M494.02 147.50a2.0 2.0 0 1 0 4.0 0a2.0 2.0 0 1 0 -4.0 0M495.54 131.90a2.0 2.0 0 1 0 4.0 0a2.0 2.0 0 1 0 -4.0 0M497.06 109.40a2.0 2.0 0 1 0 4.0 0a2.0 2.0 0 1 0 -4.0 0M498.58 97.50a2.0 2.0 0 1 0 4.0 0a2.0 2.0 0 1 0 -4.0 0M500.10 158.10a2.0 2.0 0 1 0 4.0 0a2.0 2.0 0 1 0 -4.0 0M501.62 148.80a2.0 2.0 0 1 0 4.0 0a2.0 2.0 0 1 0 -4.0 0M503.14 148.10a2.0 2.0 0 1 0 4.0 0a2.0 2.0 0 1 0 -4.0 0M504.67 144.70a2.0 2.0 0 1 0 4.0 0a2.0 2.0 0 1 0 -4.0 0M506.19 141.30a2.0 2.0 0 1 0 4.0 0a2.0 2.0 0 1 0 -4.0 0M507.71 137.50a2.0 2.0 0 1 0 4.0 0a2.0 2.0 0 1 0 -4.0 0M509.23 131.30a2.0 2.0 0 1 0 4.0 0a2.0 2.0 0 1 0 -4.0 0M510.75 133.80a2.0 2.0 0 1 0 4.0 0a2.0 2.0 0 1 0 -4.0 0M512.27 131.30a2.0 2.0 0 1 0 4.0 0a2.0 2.0 0 1 0 -4.0 0M513.79 138.80a2.0 2.0 0 1 0 4.0 0a2.0 2.0 0 1 0 -4.0 0M515.31 128.10a2.0 2.0 0 1 0 4.0 0a2.0 2.0 0 1 0 -4.0 0M516.83 126.90a2.0 2.0 0 1 0 4.0 0a2.0 2.0 0 1 0 -4.0 0M518.35 115.00a2.0 2.0 0 1 0 4.0 0a2.0 2.0 0 1 0 -4.0 0M519.87 126.20a2.0 2.0 0 1 0 4.0 0a2.0 2.0 0 1 0 -4.0 0M521.39 117.60a2.0 2.0 0 1 0 4.0 0a2.0 2.0 0 1 0 -4.0 0M522.91 109.00a2.0 2.0 0 1 0 4.0 0a2.0 2.0 0 1 0 -4.0 0M524.43 100.70a2.0 2.0 0 1 0 4.0 0a2.0 2.0 0 1 0 -4.0 0M525.95 125.50a2.0 2.0 0 1 0 4.0 0a2.0 2.0 0 1 0 -4.0 0M527.47 120.20a2.0 2.0 0 1 0 4.0 0a2.0 2.0 0 1 0 -4.0 0M528.99 118.00a2.0 2.0 0 1 0 4.0 0a2.0 2.0 0 1 0 -4.0 0M530.51 146.50a2.0 2.0 0 1 0 4.0 0a2.0 2.0 0 1 0 -4.0 0M532.03 124.00a2.0 2.0 0 1 0 4.0 0a2.0 2.0 0 1 0 -4.0 0M533.55 121.00a2.0 2.0 0 1 0 4.0 0a2.0 2.0 0 1 0 -4.0 0M535.08 130.35a2.0 2.0 0 1 0 4.0 0a2.0 2.0 0 1 0 -4.0 0M536.60 139.70a2.0 2.0 0 1 0 4.0 0a2.0 2.0 0 1 0 -4.0 0M538.12 136.00a2.0 2.0 0 1 0 4.0 0a2.0 2.0 0 1 0 -4.0 0M539.64 142.00a2.0 2.0 0 1 0 4.0 0a2.0 2.0 0 1 0 -4.0 0M541.16 148.00a2.0 2.0 0 1 0 4.0 0a2.0 2.0 0 1 0 -4.0 0M542.68 137.50a2.0 2.0 0 1 0 4.0 0a2.0 2.0 0 1 0 -4.0 0M544.20 122.50a2.0 2.0 0 1 0 4.0 0a2.0 2.0 0 1 0 -4.0 0M545.72 134.50a2.0 2.0 0 1 0 4.0 0a2.0 2.0 0 1 0 -4.0 0M547.24 146.50a2.0 2.0 0 1 0 4.0 0a2.0 2.0 0 1 0 -4.0 0M548.76 148.70a2.0 2.0 0 1 0 4.0 0a2.0 2.0 0 1 0 -4.0 0M550.28 147.95a2.0 2.0 0 1 0 4.0 0a2.0 2.0 0 1 0 -4.0 0M551.80 147.20a2.0 2.0 0 1 0 4.0 0a2.0 2.0 0 1 0 -4.0 0M553.32 145.35a2.0 2.0 0 1 0 4.0 0a2.0 2.0 0 1 0 -4.0 0M554.84 143.50a2.0 2.0 0 1 0 4.0 0a2.0 2.0 0 1 0 -4.0 0M556.36 141.25a2.0 2.0 0 1 0 4.0 0a2.0 2.0 0 1 0 -4.0 0M557.88 139.00a2.0 2.0 0 1 0 4.0 0a2.0 2.0 0 1 0 -4.0 0M559.40 142.75a2.0 2.0 0 1 0 4.0 0a2.0 2.0 0 1 0 -4.0 0M560.92 146.50a2.0 2.0 0 1 0 4.0 0a2.0 2.0 0 1 0 -4.0 0M562.44 131.50a2.0 2.0 0 1 0 4.0 0a2.0 2.0 0 1 0 -4.0 0M563.97 142.00a2.0 2.0 0 1 0 4.0 0a2.0 2.0 0 1 0 -4.0 0M565.49 143.50a2.0 2.0 0 1 0 4.0 0a2.0 2.0 0 1 0 -4.0 0M567.01 140.10a2.0 2.0 0 1 0 4.0 0a2.0 2.0 0 1 0 -4.0 0M568.53 136.70a2.0 2.0 0 1 0 4.0 0a2.0 2.0 0 1 0 -4.0 0M570.05 136.70a2.0 2.0 0 1 0 4.0 0a2.0 2.0 0 1 0 -4.0 0M571.57 136.70a2.0 2.0 0 1 0 4.0 0a2.0 2.0 0 1 0 -4.0 0M573.09 150.20a2.0 2.0 0 1 0 4.0 0a2.0 2.0 0 1 0 -4.0 0M574.61 143.10a2.0 2.0 0 1 0 4.0 0a2.0 2.0 0 1 0 -4.0 0M576.13 136.00a2.0 2.0 0 1 0 4.0 0a2.0 2.0 0 1 0 -4.0 0M577.65 131.85a2.0 2.0 0 1 0 4.0 0a2.0 2.0 0 1 0 -4.0 0M579.17 127.70a2.0 2.0 0 1 0 4.0 0a2.0 2.0 0 1 0 -4.0 0M580.69 137.50a2.0 2.0 0 1 0 4.0 0a2.0 2.0 0 1 0 -4.0 0" fill="#0a76bf"/>
<path d="M38 374H54" stroke="#0a76bf" stroke-width="2"/>
<circle cx="46" cy="374" r="2" fill="#0a76bf"/>
<g font-size="12px" font-weight="bold" fill="#333333">
<text x="59.4" y="378" textLength="39.2" lengthAdjust="spacingAndGlyphs">Trade</text>
<text x="103" y="378" textLength="14" lengthAdjust="spacingAndGlyphs">in</text>
<text x="120" y="378" textLength="49" lengthAdjust="spacingAndGlyphs">Goods:</text>
<text x="174.1" y="378" textLength="135.9" lengthAdjust="spacingAndGlyphs">Semi-manufactures</text>
<text x="314.1" y="378" textLength="57.7" lengthAdjust="spacingAndGlyphs">(5and6):</text>
<text x="376.7" y="378" textLength="22.75" lengthAdjust="spacingAndGlyphs">EU:</text>
<text x="403.2" y="378" textLength="60.1" lengthAdjust="spacingAndGlyphs">Imports:</text>
<text x="466.4" y="378" textLength="35.3" lengthAdjust="spacingAndGlyphs">BOP:</text>
<text x="504.4" y="378" textLength="35.9" lengthAdjust="spacingAndGlyphs">CVM:</text>
<text x="543.6" y="378" textLength="18.6" lengthAdjust="spacingAndGlyphs">SA</text>
</g>
<text x="542.4" y="395" font-size="12px" fill="#666666" textLength="47.6" lengthAdjust="spacingAndGlyphs">Source:</text>
</svg>
</body></html>
